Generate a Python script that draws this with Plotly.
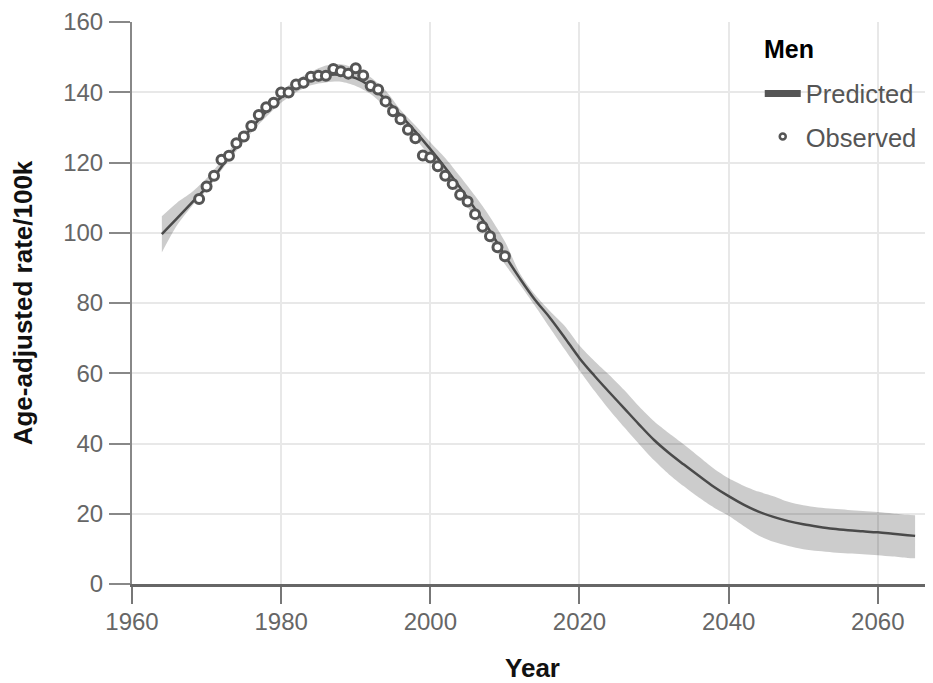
import plotly.graph_objects as go

# Observed
obs_years = list(range(1969, 2011))
obs_values = [109.6, 113.2, 116.2, 120.8, 121.9, 125.5, 127.4, 130.4, 133.5, 135.7,
              137.0, 139.9, 139.9, 142.2, 142.7, 144.4, 144.7, 144.7, 146.6, 146.0,
              145.3, 146.8, 144.8, 141.8, 140.8, 137.4, 134.6, 132.3, 129.3, 126.9,
              122.0, 121.4, 118.9, 116.2, 113.9, 110.8, 108.9, 105.3, 101.7, 99.0,
              95.9, 93.3]

# Predicted with uncertainty band
pred_years = [1964, 1966, 1968, 1970, 1972, 1974, 1976, 1978, 1980, 1982, 1984, 1986,
              1988, 1990, 1992, 1994, 1996, 1998, 2000, 2002, 2004, 2006, 2008, 2010,
              2012, 2014, 2016, 2018, 2020, 2022, 2024, 2026, 2028, 2030, 2032, 2034,
              2036, 2038, 2040, 2042, 2044, 2046, 2048, 2050, 2052, 2054, 2056, 2058,
              2060, 2062, 2064, 2065]
pred_values = [99.6, 104.0, 108.5, 113.0, 118.8, 124.5, 129.8, 134.5, 138.6, 141.7,
               143.8, 144.9, 145.0, 144.0, 141.6, 138.0, 133.5, 128.8, 123.8, 118.5,
               112.8, 106.8, 100.5, 93.5, 87.0, 81.0, 75.9, 70.2, 64.3, 59.3,
               54.6, 50.0, 45.4, 41.0, 37.3, 34.0, 30.8, 27.7, 25.0, 22.6,
               20.6, 19.1, 17.9, 17.0, 16.3, 15.7, 15.3, 15.0, 14.7, 14.3, 13.9, 13.7]
pred_lower = [94.4, 102.0, 107.5, 112.0, 117.8, 123.3, 128.5, 133.0, 137.0, 140.0,
              142.0, 142.8, 143.0, 141.8, 139.5, 135.8, 131.5, 126.8, 121.5, 116.0,
              110.3, 104.2, 97.8, 91.0, 85.3, 79.3, 73.0, 66.8, 60.8, 55.0,
              49.6, 44.6, 39.8, 35.2, 31.2, 27.8, 24.6, 21.8, 19.4, 16.5,
              13.8, 12.0, 10.8, 9.9, 9.4, 9.0, 8.7, 8.5, 8.2, 7.8, 7.4, 7.3]
pred_upper = [104.7, 108.5, 111.5, 115.5, 120.5, 126.0, 131.3, 136.0, 140.2, 143.5,
              145.8, 147.6, 148.0, 146.8, 144.3, 140.5, 135.0, 130.5, 125.8, 121.3,
              116.0, 110.5, 104.5, 97.5, 88.5, 82.5, 77.8, 73.5, 67.9, 63.5,
              59.5, 55.2, 50.5, 46.3, 42.9, 39.7, 36.3, 32.9, 30.1, 28.0,
              26.3, 25.0, 23.4, 22.4, 21.8, 21.4, 21.1, 20.8, 20.5, 20.1, 19.7, 19.6]

x_ticks = [1960, 1980, 2000, 2020, 2040, 2060]
y_ticks = [0, 20, 40, 60, 80, 100, 120, 140, 160]

FONT = "Liberation Sans, Arial, sans-serif"
fig = go.Figure()

fig.add_trace(go.Scatter(x=pred_years, y=pred_lower, mode="lines",
                         line=dict(width=0, shape="spline", smoothing=0.8,
                                   color="rgba(0,0,0,0)"),
                         showlegend=False, hoverinfo="skip"))
fig.add_trace(go.Scatter(x=pred_years, y=pred_upper, mode="lines", fill="tonexty",
                         fillcolor="rgba(0,0,0,0.2)",
                         line=dict(width=0, shape="spline", smoothing=0.8,
                                   color="rgba(0,0,0,0)"),
                         showlegend=False, hoverinfo="skip"))
fig.add_trace(go.Scatter(x=pred_years, y=pred_values, mode="lines",
                         line=dict(width=2.5, shape="spline", color="#4a4a4a"),
                         showlegend=False))
fig.add_trace(go.Scatter(x=obs_years, y=obs_values, mode="markers",
                         marker=dict(size=9, color="white",
                                     line=dict(width=3, color="#555555")),
                         showlegend=False))
# legend entries
fig.add_trace(go.Scatter(x=[None], y=[None], mode="lines", name="Predicted",
                         line=dict(width=7, color="#555555"), legendgroup="a"))
fig.add_trace(go.Scatter(x=[None], y=[None], mode="markers", name="Observed",
                         marker=dict(size=6, color="white",
                                     line=dict(width=2.5, color="#555555")),
                         legendgroup="b"))

fig.update_layout(
    width=925, height=675,
    margin=dict(l=124, r=0, t=12, b=99),
    plot_bgcolor="white", paper_bgcolor="white",
    font=dict(family=FONT, size=24, color="#666666"),
    legend=dict(x=0.7837, y=0.914, xanchor="left", yanchor="top",
                bgcolor="rgba(0,0,0,0)",
                font=dict(size=25.5, color="#555555"),
                tracegroupgap=7, itemwidth=36),
    annotations=[dict(text="<b>Men</b>", x=0.7865, y=0.952, xref="paper", yref="paper",
                      xanchor="left", yanchor="middle", showarrow=False,
                      font=dict(size=25, color="#000000"))],
    xaxis=dict(range=[1960, 2067.4], tickvals=x_ticks, ticks="outside", ticklen=17,
               tickwidth=2, tickcolor="#777777", ticklabelstandoff=-3,
               ticklabeloverflow="allow",
               showline=True, linecolor="#666666", linewidth=3,
               showgrid=True, gridcolor="#e8e8e8", gridwidth=2, zeroline=False,
               title=dict(text="<b>Year</b>", font=dict(size=26, color="#111111"),
                          standoff=27)),
    yaxis=dict(range=[0, 160], tickvals=y_ticks, ticks="outside", ticklen=21,
               tickwidth=2, tickcolor="#888888", ticklabelstandoff=1,
               ticklabeloverflow="allow",
               showline=True, linecolor="#888888", linewidth=2,
               showgrid=True, gridcolor="#e8e8e8", gridwidth=2, zeroline=False,
               title=dict(text="<b>Age-adjusted rate/100k</b>",
                          font=dict(size=26, color="#111111"), standoff=28)),
)

fig.write_html("out.html")
